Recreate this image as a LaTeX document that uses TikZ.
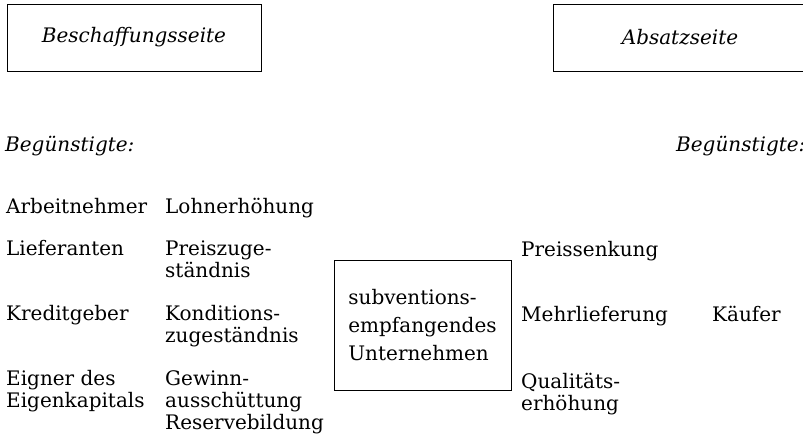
\documentclass[tikz,border=0pt]{standalone}
\usepackage{fontspec}
\setmainfont{DejaVu Serif}
\begin{document}
\begin{tikzpicture}[x=1pt,y=-1pt,
	every node/.style={inner sep=0pt, font=\fontsize{20}{22}\selectfont},
	entry/.style={anchor=base west, align=left},
	sidebox/.style={draw, thick, minimum width=254pt, minimum height=67pt, font=\fontsize{20}{22}\selectfont\itshape}]
	\useasboundingbox (0,0) rectangle (803,434);
	\clip (0,0) rectangle (803,434);
	% Kopfzeile
	\node (buy) at (134, 37.5)	[sidebox]	{Beschaffungsseite};
	\node (sell) at (680, 37.5)	[sidebox]	{Absatzseite};
	\node (favL) at (5, 151)	[entry, font=\fontsize{20}{22}\selectfont\itshape]	{Begünstigte:};
	\node (favR) at (676, 151)	[entry, font=\fontsize{20}{22}\selectfont\itshape]	{Begünstigte:};
	% Beschaffungsseite (mehrzeilige Knoten: Basislinie der letzten Zeile)
	\node (worker) at (6, 213)	[entry]	{Arbeitnehmer};
	\node (wage) at (165, 213)	[entry]	{Lohnerhöhung};
	\node (supplier) at (6, 255)	[entry]	{Lieferanten};
	\node (price) at (165, 277)	[entry]	{Preiszuge-\\ständnis};
	\node (lender) at (6, 320)	[entry]	{Kreditgeber};
	\node (terms) at (165, 342)	[entry]	{Konditions-\\zugeständnis};
	\node (owner) at (6, 407)	[entry]	{Eigner des\\Eigenkapitals};
	\node (profit) at (165, 429)	[entry]	{Gewinn-\\ausschüttung\\Reservebildung};
	% Unternehmen
	\node (firm) at (422.5, 325)	[draw, thick, minimum width=177pt, minimum height=130pt, align=left, font=\fontsize{20}{28}\selectfont]	{subventions-\\empfangendes\\Unternehmen};
	% Absatzseite
	\node (cut) at (521, 256)	[entry]	{Preissenkung};
	\node (more) at (521, 321)	[entry]	{Mehrlieferung};
	\node (quality) at (521, 410)	[entry]	{Qualitäts-\\erhöhung};
	\node (buyer) at (712, 321)	[entry]	{Käufer};
\end{tikzpicture}
\end{document}
